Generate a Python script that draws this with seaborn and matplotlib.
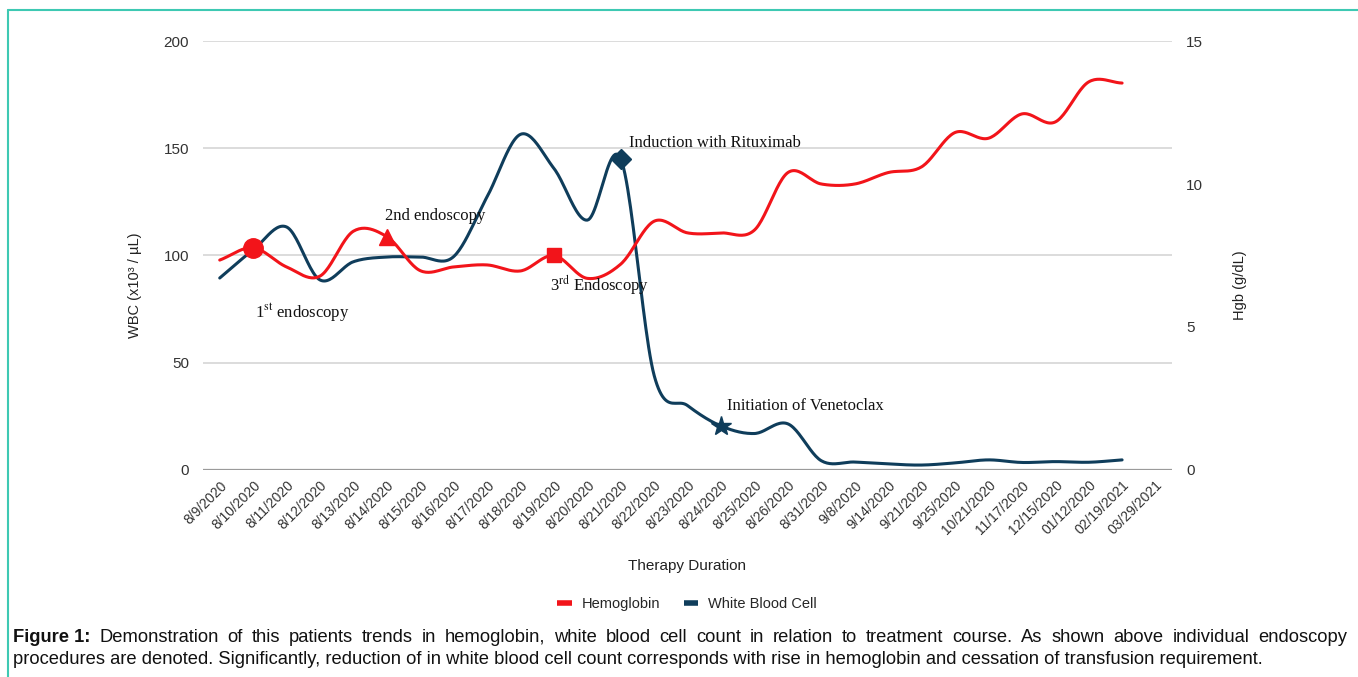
import numpy as np
import matplotlib
matplotlib.use("Agg")
import matplotlib.pyplot as plt
from matplotlib.lines import Line2D
import seaborn as sns

dates = ["8/9/2020", "8/10/2020", "8/11/2020", "8/12/2020", "8/13/2020", "8/14/2020",
         "8/15/2020", "8/16/2020", "8/17/2020", "8/18/2020", "8/19/2020", "8/20/2020",
         "8/21/2020", "8/22/2020", "8/23/2020", "8/24/2020", "8/25/2020", "8/26/2020",
         "8/31/2020", "9/8/2020", "9/14/2020", "9/21/2020", "9/25/2020", "10/21/2020",
         "11/17/2020", "12/15/2020", "01/12/2020", "02/19/2021", "03/29/2021"]

# Hgb (g/dL), right axis
hgb = [7.34, 7.77, 7.1, 6.78, 8.35, 8.16, 6.97, 7.1, 7.17, 6.96, 7.5, 6.7, 7.2, 8.7,
       8.29, 8.29, 8.39, 10.4, 10.0, 10.0, 10.4, 10.6, 11.8, 11.6, 12.45, 12.17, 13.57, 13.53]
# WBC (x10^3/uL), left axis
wbc = [89.5, 102.6, 113.3, 88.6, 97.1, 99.3, 99.3, 99.5, 127.4, 156.5, 140.6, 116.5, 145,
       44, 30, 20.5, 17, 21.5, 4.3, 3.7, 2.8, 2.3, 3.3, 4.7, 3.5, 3.9, 3.6, 4.7]

# events: (index, marker, size, label, text offset)
hgb_events = [(1, "o", 14, "1$^{\\mathrm{st}}$ endoscopy", (1.5, -47)),
              (5, "^", 12, "2nd endoscopy", (-1.5, 14.5)),
              (10, "s", 10, "3$^{\\mathrm{rd}}$ Endoscopy", (-3, -21))]
wbc_events = [(12, "D", 10, "Induction with Rituximab", (6, 11.5)),
              (15, "*", 15, "Initiation of Venetoclax", (4.5, 14.5))]

RED = "#f2141a"
BLUE = "#0f3d5b"


def smooth(y, n=24):
    # Catmull-Rom curve through the points, just for drawing
    y = np.asarray(y, float)
    p = np.concatenate([[2 * y[0] - y[1]], y, [2 * y[-1] - y[-2]]])
    t = np.linspace(0, 1, n, endpoint=False)
    xs, ys = [], []
    for i in range(len(y) - 1):
        p0, p1, p2, p3 = p[i:i + 4]
        yy = 0.5 * (2 * p1 + (-p0 + p2) * t + (2 * p0 - 5 * p1 + 4 * p2 - p3) * t ** 2
                    + (-p0 + 3 * p1 - 3 * p2 + p3) * t ** 3)
        xs.append(i + t)
        ys.append(yy)
    xs.append([len(y) - 1])
    ys.append([y[-1]])
    return np.concatenate(xs), np.concatenate(ys)


sns.set_theme(style="white")
plt.rcParams["font.family"] = ["Liberation Sans", "DejaVu Sans"]
plt.rcParams["mathtext.fontset"] = "stix"

fig = plt.figure(figsize=(13.58, 6.77), dpi=100)
ax = fig.add_axes([0.1495, 0.3058, 0.7137, 0.6336])
ax2 = ax.twinx()

for a in (ax, ax2):
    for s in a.spines.values():
        s.set_visible(False)

ax.set_ylim(0, 200)
ax2.set_ylim(0, 15)
ax.set_xlim(-0.5, len(dates) - 0.5)
ax.set_yticks([0, 50, 100, 150, 200])
ax2.set_yticks([0, 5, 10, 15])
for v in [50, 100, 150, 200]:
    ax.axhline(v, color="#d6d6d6", lw=1.2, zorder=0)
ax.axhline(0, color="#9a9a9a", lw=1.6, zorder=1)

bx, by = smooth(wbc)
sns.lineplot(x=bx, y=by, ax=ax, color=BLUE, lw=2.2, estimator=None, sort=False, zorder=3)
rx, ry = smooth(hgb)
sns.lineplot(x=rx, y=ry, ax=ax2, color=RED, lw=2.2, estimator=None, sort=False, zorder=3)

serif = ["Liberation Serif", "DejaVu Serif"]
for i, m, ms, label, off in hgb_events:
    ax2.plot(i, hgb[i], marker=m, ms=ms, color=RED, mec=RED, ls="none", zorder=5)
    ax2.annotate(label, (i, hgb[i]), xytext=off, textcoords="offset points",
                 ha="left", va="center", fontsize=12, family=serif, color="#111111")
for i, m, ms, label, off in wbc_events:
    ax.plot(i, wbc[i], marker=m, ms=ms, color=BLUE, mec=BLUE, ls="none", zorder=5)
    ax.annotate(label, (i, wbc[i]), xytext=off, textcoords="offset points",
                ha="left", va="center", fontsize=12, family=serif, color="#111111")

ax.set_xticks(range(len(dates)))
ax.set_xticklabels(dates, rotation=45, ha="right", rotation_mode="anchor", fontsize=10,
                   color="#333333")
ax.tick_params(axis="x", length=0, pad=6)
ax.tick_params(axis="y", length=0, pad=10, labelsize=11, labelcolor="#333333")
ax2.tick_params(axis="y", length=0, pad=10, labelsize=11, labelcolor="#333333")
ax.grid(False)
ax2.grid(False)

fig.text(0.0995, 0.579, "WBC (x10³ / µL)", rotation=90, ha="center", va="center",
         fontsize=10.5, color="#222222")
fig.text(0.913, 0.579, "Hgb (g/dL)", rotation=90, ha="center", va="center",
         fontsize=10.5, color="#222222")
fig.text(0.506, 0.164, "Therapy Duration", ha="center", va="center", fontsize=11,
         color="#222222")

handles = [Line2D([], [], color=RED, lw=4, solid_capstyle="butt"),
           Line2D([], [], color=BLUE, lw=4, solid_capstyle="butt")]
fig.legend(handles, ["Hemoglobin", "White Blood Cell"], loc="center",
           bbox_to_anchor=(0.506, 0.108), ncol=2, frameon=False, fontsize=10.5,
           handlelength=1.0, handletextpad=0.7, columnspacing=1.6)

# frame lines
fig.add_artist(Line2D([8 / 1358, 1], [1 - 10 / 677] * 2, color="#3ec9b3", lw=1.5))
fig.add_artist(Line2D([8 / 1358] * 2, [0, 1 - 10 / 677], color="#3ec9b3", lw=1.5))

# caption, first line justified
renderer = fig.canvas.get_renderer()
W = 1358.0
cap_fs = 13.2
line1 = ("Demonstration of this patients trends in hemoglobin, white blood cell count in "
         "relation to treatment course. As shown above individual endoscopy").split()
line2 = ("procedures are denoted. Significantly, reduction of in white blood cell count "
         "corresponds with rise in hemoglobin and cessation of transfusion requirement.")
y1 = 1 - 637 / 677
y2 = 1 - 659 / 677
x0, x1 = 13, 1347
items = [("Figure 1:", "bold")] + [(w, "normal") for w in line1]
widths = []
for w, wt in items:
    t = fig.text(0, 0, w, fontsize=cap_fs, fontweight=wt)
    widths.append(t.get_window_extent(renderer).width)
    t.remove()
gap = (x1 - x0 - sum(widths)) / (len(items) - 1)
x = x0
for (w, wt), wd in zip(items, widths):
    fig.text(x / W, y1, w, fontsize=cap_fs, fontweight=wt, va="center", ha="left",
             color="#111111")
    x += wd + gap
fig.text(x0 / W, y2, line2, fontsize=cap_fs, va="center", ha="left", color="#111111")

fig.savefig("out.png", dpi=100)
